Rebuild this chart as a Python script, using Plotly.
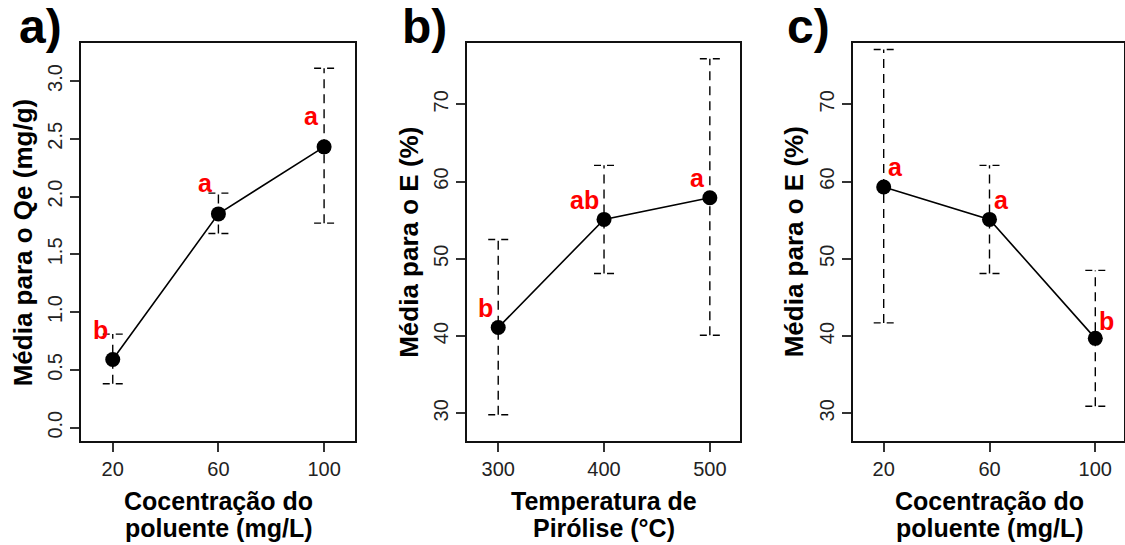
import plotly.graph_objects as go

W, H = 1125, 545

# ---------------- data ----------------
conc = [20, 60, 100]
temp = [300, 400, 500]

qe_mean = [0.59, 1.85, 2.43]
qe_upper = [0.81, 2.03, 3.11]
qe_lower = [0.38, 1.68, 1.77]
groups_a = ["b", "a", "a"]

eT_mean = [41.1, 55.1, 57.9]
eT_upper = [52.5, 62.1, 75.9]
eT_lower = [29.8, 48.1, 40.1]
groups_b = ["b", "ab", "a"]

eC_mean = [59.3, 55.1, 39.7]
eC_upper = [77.1, 62.1, 48.5]
eC_lower = [41.7, 48.1, 30.9]
groups_c = ["a", "a", "b"]

yticks_a = [0.0, 0.5, 1.0, 1.5, 2.0, 2.5, 3.0]
yticks_e = [30, 40, 50, 60, 70]

panel_letters = ["a)", "b)", "c)"]
ytitles = ["Média para o Qe (mg/g)", "Média para o E (%)", "Média para o E (%)"]
xtitles = [["Cocentração do", "poluente (mg/L)"],
           ["Temperatura de", "Pirólise (°C)"],
           ["Cocentração do", "poluente (mg/L)"]]

# ---------------- layout helpers ----------------
def pxx(p):
    return p / W

def pxy(p):
    return 1 - p / H

FONT = "Liberation Sans, Arial, Helvetica, sans-serif"

panels = [
    dict(s="", x=conc, m=qe_mean, up=qe_upper, lo=qe_lower, g=groups_a,
         dom=[81.3, 355.0], xr=[8.1, 111.7], yr=[-0.115, 3.326],
         yt=yticks_a, ytt=[f"{v:.1f}" for v in yticks_a],
         lab_anchor="right", lab_dx=-3, lab_dy=[30, 31, 31],
         ytitle_x=23.3, letter_x=16.5),
    dict(s="2", x=temp, m=eT_mean, up=eT_upper, lo=eT_lower, g=groups_b,
         dom=[467.0, 740.0], xr=[270.5, 528.5], yr=[26.41, 77.9],
         yt=yticks_e, ytt=[str(v) for v in yticks_e],
         lab_anchor="right", lab_dx=-3, lab_dy=[20, 19, 19.5],
         ytitle_x=408.8, letter_x=399.5),
    dict(s="3", x=conc, m=eC_mean, up=eC_upper, lo=eC_lower, g=groups_c,
         dom=[852.7, 1124.0], xr=[8.28, 110.85], yr=[26.41, 77.9],
         yt=yticks_e, ytt=[str(v) for v in yticks_e],
         lab_anchor="left", lab_dx=2, lab_dy=[19.5, 19.5, 17.5],
         ytitle_x=794.3, letter_x=784.5),
]

fig = go.Figure()
shapes = []
annotations = []

for i, p in enumerate(panels):
    s = p["s"]
    xa, ya = "x" + s, "y" + s

    # dashed vertical error lines
    ex, ey = [], []
    for xi, lo, hi in zip(p["x"], p["lo"], p["up"]):
        ex += [xi, xi, None]
        ey += [lo, hi, None]
    fig.add_trace(go.Scatter(x=ex, y=ey, mode="lines", xaxis=xa, yaxis=ya,
                             line=dict(color="black", width=1.4, dash="9px,6px"),
                             hoverinfo="skip", showlegend=False))
    # caps
    for xi, lo, hi in zip(p["x"], p["lo"], p["up"]):
        for yv in (lo, hi):
            shapes.append(dict(type="line", xref=xa, yref=ya, xsizemode="pixel",
                               xanchor=xi, x0=-10, x1=10, y0=yv, y1=yv,
                               line=dict(color="black", width=1.4, dash="7px,6px")))
    # means
    fig.add_trace(go.Scatter(x=p["x"], y=p["m"], mode="lines+markers", xaxis=xa, yaxis=ya,
                             line=dict(color="black", width=1.6),
                             marker=dict(color="black", size=15),
                             showlegend=False))
    # group letters
    for xi, yi, g, dy in zip(p["x"], p["m"], p["g"], p["lab_dy"]):
        annotations.append(dict(x=xi, y=yi, xref=xa, yref=ya, text=f"<b>{g}</b>",
                                showarrow=False, xanchor=p["lab_anchor"], yanchor="middle",
                                xshift=p["lab_dx"], yshift=dy,
                                font=dict(color="#FF0000", size=25, family=FONT)))
    # axes
    axis_common = dict(showline=True, mirror=True, linecolor="#111", linewidth=2,
                       ticks="outside", ticklen=9, tickwidth=1.5, tickcolor="#333",
                       showgrid=False, zeroline=False,
                       tickfont=dict(size=20, color="#222", family=FONT))
    fig.update_layout(**{
        "xaxis" + s: dict(domain=[pxx(p["dom"][0]), pxx(p["dom"][1])], range=p["xr"],
                          tickvals=p["x"], anchor=ya, **axis_common),
        "yaxis" + s: dict(domain=[pxy(441), pxy(43.3)], range=p["yr"],
                          tickvals=p["yt"], ticktext=p["ytt"], tickangle=-90,
                          anchor=xa, **axis_common),
    })
    # y title
    annotations.append(dict(x=pxx(p["ytitle_x"]), y=pxy(242), xref="paper", yref="paper",
                            text=f"<b>{ytitles[i]}</b>", textangle=-90, showarrow=False,
                            xanchor="center", yanchor="middle",
                            font=dict(size=26, color="black", family=FONT)))
    # x title (two lines)
    cx = (p["dom"][0] + p["dom"][0] + 273.7) / 2
    for line, base in zip(xtitles[i], [509.3, 536.4]):
        annotations.append(dict(x=pxx(cx), y=pxy(base - 8.7), xref="paper", yref="paper",
                                text=f"<b>{line}</b>", showarrow=False,
                                xanchor="center", yanchor="middle",
                                font=dict(size=25, color="black", family=FONT)))
    # panel letter
    annotations.append(dict(x=pxx(p["letter_x"]), y=pxy(26), xref="paper", yref="paper",
                            text=f"<b>{panel_letters[i]}</b>", showarrow=False,
                            xanchor="left", yanchor="middle",
                            font=dict(size=48, color="black", family=FONT)))

fig.update_layout(width=W, height=H, margin=dict(l=0, r=0, t=0, b=0),
                  plot_bgcolor="white", paper_bgcolor="white",
                  showlegend=False, font=dict(family=FONT),
                  shapes=shapes, annotations=annotations)

fig.write_html("out.html")
